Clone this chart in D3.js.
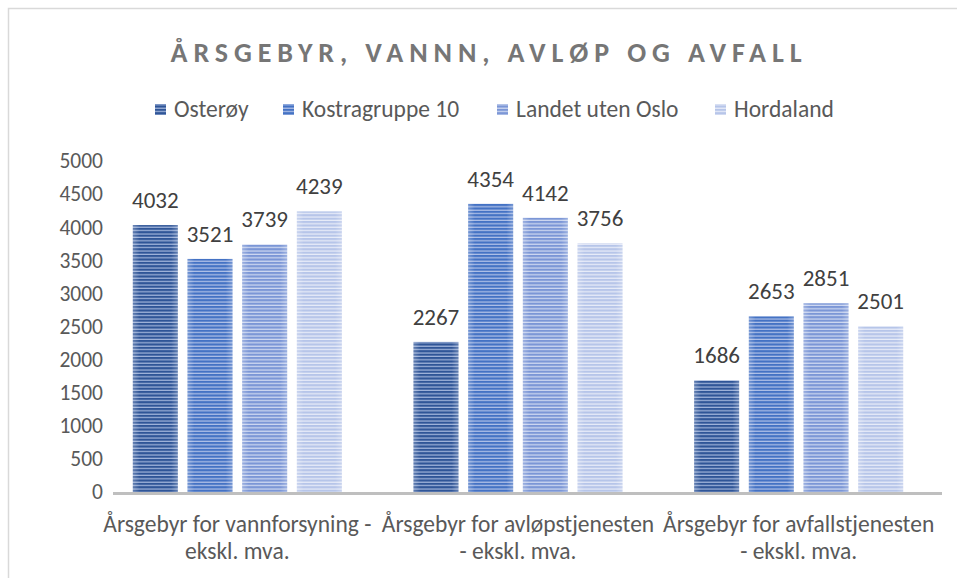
<!DOCTYPE html>
<html>
<head>
<meta charset="utf-8">
<script src="https://cdn.jsdelivr.net/npm/d3@7"></script>
<style>
  html, body { margin: 0; padding: 0; background: #fff; }
  svg { display: block; font-family: Carlito, Calibri, Lato, sans-serif; }
</style>
</head>
<body>
<svg id="chart" width="957" height="578"></svg>
<script>
// Annual fees (NOK), water, sewage and waste
const categories = [
  ["Årsgebyr for vannforsyning -", "ekskl. mva."],
  ["Årsgebyr for avløpstjenesten", "- ekskl. mva."],
  ["Årsgebyr for avfallstjenesten", "- ekskl. mva."]
];
const seriesNames = ["Osterøy", "Kostragruppe 10", "Landet uten Oslo", "Hordaland"];
const osteroy = [4032, 2267, 1686];
const kostragruppe10 = [3521, 4354, 2653];
const landetUtenOslo = [3739, 4142, 2851];
const hordaland = [4239, 3756, 2501];
const yTicks = [0, 500, 1000, 1500, 2000, 2500, 3000, 3500, 4000, 4500, 5000];

const seriesValues = [osteroy, kostragruppe10, landetUtenOslo, hordaland];
const fills = ["#2f5597", "#4472c4", "#7b96d6", "#b6c5e9"];
const stripes = ["#a3b6dc", "#b2c2e8", "#d0daf2", "#e9edf9"];

const svg = d3.select("#chart");
const W = 957, H = 578;

// chart frame
svg.append("rect")
  .attr("x", 8.5).attr("y", 8.5)
  .attr("width", W).attr("height", H)
  .attr("fill", "#fff").attr("stroke", "#d9d9d9").attr("stroke-width", 1.5);

// horizontal stripe patterns
const defs = svg.append("defs");
fills.forEach((c, i) => {
  const p = defs.append("pattern")
    .attr("id", "stripe" + i)
    .attr("patternUnits", "userSpaceOnUse")
    .attr("width", 8).attr("height", 3.4);
  p.append("rect").attr("width", 8).attr("height", 3.4).attr("fill", c);
  p.append("rect").attr("y", 2.2).attr("width", 8).attr("height", 1.2).attr("fill", stripes[i]);
});
// soft side sheen on bars
const sheen = defs.append("linearGradient").attr("id", "sheen")
  .attr("x1", 0).attr("x2", 1).attr("y1", 0).attr("y2", 0);
sheen.append("stop").attr("offset", "0").attr("stop-color", "#fff").attr("stop-opacity", 0.25);
sheen.append("stop").attr("offset", "0.15").attr("stop-color", "#fff").attr("stop-opacity", 0);
sheen.append("stop").attr("offset", "0.85").attr("stop-color", "#fff").attr("stop-opacity", 0);
sheen.append("stop").attr("offset", "1").attr("stop-color", "#fff").attr("stop-opacity", 0.25);

// title
svg.append("text")
  .attr("x", 489).attr("y", 62)
  .attr("text-anchor", "middle")
  .attr("fill", "#767676")
  .attr("font-size", 28)
  .attr("font-weight", 700)
  .attr("letter-spacing", 5.9)
  .text("ÅRSGEBYR, VANNN, AVLØP OG AVFALL");

// legend
const legendX = [155, 283, 497, 715];
const legend = svg.append("g");
seriesNames.forEach((name, i) => {
  const g = legend.append("g").attr("transform", `translate(${legendX[i]},0)`);
  g.append("rect").attr("x", 0).attr("y", 104).attr("width", 11).attr("height", 11)
    .attr("fill", `url(#stripe${i})`);
  g.append("text").attr("x", 19).attr("y", 117)
    .attr("fill", "#595959").attr("font-size", 23.5).text(name);
});

// scales
const x0 = d3.scaleBand().domain(d3.range(categories.length)).range([97, 939]).padding(0);
const x1 = d3.scaleBand().domain(d3.range(seriesNames.length))
  .range([0, x0.bandwidth()]).paddingInner(0.177).paddingOuter(0.655);
const y = d3.scaleLinear().domain([0, 5000]).range([492, 161]);

// y axis labels
const yAxis = d3.axisLeft(y).tickValues(yTicks).tickFormat(d3.format("d")).tickSize(0).tickPadding(0);
const ya = svg.append("g").attr("transform", "translate(103,0)").call(yAxis);
ya.select(".domain").remove();
ya.selectAll("text").attr("fill", "#595959").attr("font-size", 21.5)
  .attr("font-family", "Carlito, Calibri, Lato, sans-serif");

// bars
const groups = svg.append("g").selectAll("g")
  .data(categories).join("g")
  .attr("transform", (d, ci) => `translate(${x0(ci)},0)`);

seriesNames.forEach((name, si) => {
  groups.append("rect")
    .attr("x", (d, ci) => x1(si))
    .attr("y", (d, ci) => y(seriesValues[si][ci]))
    .attr("width", x1.bandwidth())
    .attr("height", (d, ci) => y(0) - y(seriesValues[si][ci]))
    .attr("fill", `url(#stripe${si})`);
  groups.append("rect")
    .attr("x", (d, ci) => x1(si))
    .attr("y", (d, ci) => y(seriesValues[si][ci]))
    .attr("width", x1.bandwidth())
    .attr("height", (d, ci) => y(0) - y(seriesValues[si][ci]))
    .attr("fill", "url(#sheen)");
  groups.append("text")
    .attr("x", (d, ci) => x1(si) + x1.bandwidth() / 2)
    .attr("y", (d, ci) => y(seriesValues[si][ci]) - 17)
    .attr("text-anchor", "middle")
    .attr("fill", "#404040").attr("font-size", 23)
    .text((d, ci) => seriesValues[si][ci]);
});

// baseline
svg.append("line")
  .attr("x1", 113).attr("x2", 942)
  .attr("y1", y(0) + 1.5).attr("y2", y(0) + 1.5)
  .attr("stroke", "#bfbfbf").attr("stroke-width", 3);

// category labels
const xa = svg.append("g");
categories.forEach((lines, ci) => {
  const cx = x0(ci) + x0.bandwidth() / 2;
  lines.forEach((ln, li) => {
    xa.append("text")
      .attr("x", cx).attr("y", 532 + li * 27)
      .attr("text-anchor", "middle")
      .attr("fill", "#595959").attr("font-size", 23.5)
      .text(ln);
  });
});
</script>
</body>
</html>
